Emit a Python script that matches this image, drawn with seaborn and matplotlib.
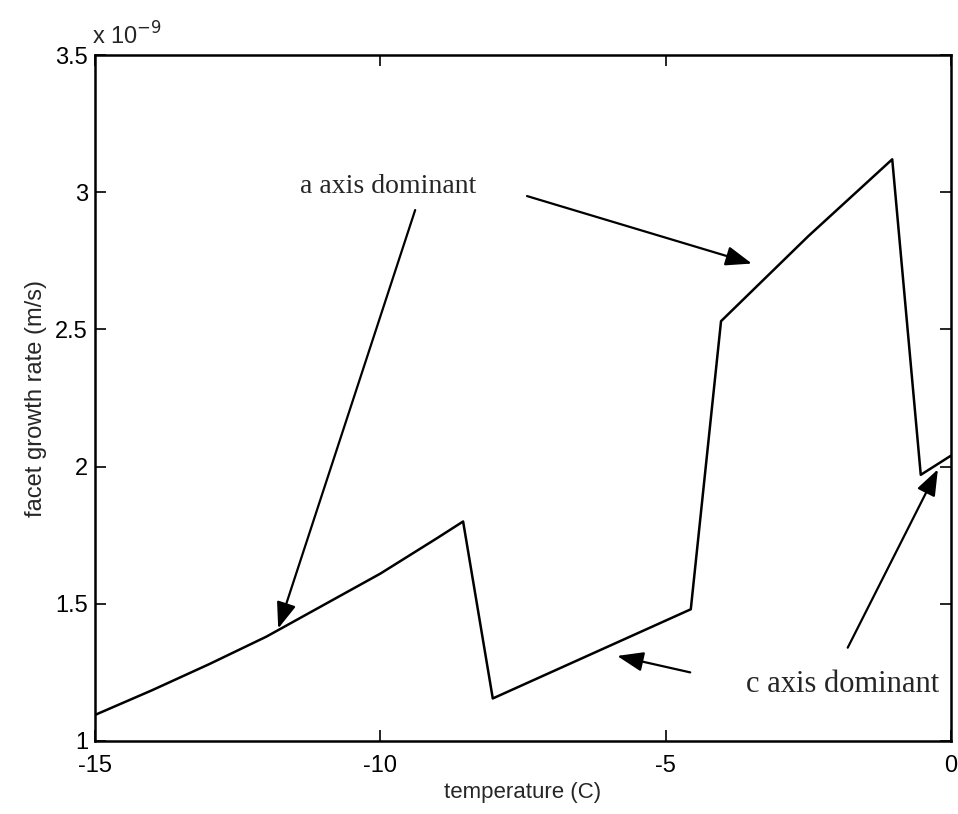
import numpy as np
import pandas as pd
import seaborn as sns
import matplotlib.pyplot as plt

# facet growth rate vs temperature, rate in units of 1e-9 m/s
temperature = [-15.0, -14.0, -13.0, -12.0, -11.0, -10.0, -9.0, -8.55,
               -8.03, -4.56, -4.03, -2.5, -1.03, -0.53, 0.0]
growth_rate = [1.095, 1.185, 1.28, 1.38, 1.495, 1.61, 1.74, 1.80,
               1.155, 1.48, 2.53, 2.84, 3.12, 1.97, 2.04]

x_ticks = [-15, -10, -5, 0]
y_ticks = [1, 1.5, 2, 2.5, 3, 3.5]
y_tick_labels = ['1', '1.5', '2', '2.5', '3', '3.5']

df = pd.DataFrame({'temperature': temperature, 'rate': growth_rate})

sns.set_style('ticks')
plt.rcParams['font.family'] = ['Liberation Sans', 'DejaVu Sans']

fig = plt.figure(figsize=(9.58, 8.14), dpi=100)
ax = fig.add_axes([0.0992, 0.0897, 0.8935, 0.8427])

sns.lineplot(data=df, x='temperature', y='rate', ax=ax, color='black',
             linewidth=1.8, sort=False, estimator=None)

ax.set_xlim(-15, 0)
ax.set_ylim(1, 3.5)
ax.set_xticks(x_ticks)
ax.set_xticklabels([str(t) for t in x_ticks])
ax.set_yticks(y_ticks)
ax.set_yticklabels(y_tick_labels)
ax.tick_params(direction='in', length=8, width=1.2, top=True, right=True,
               labelsize=17, colors='black')
ax.tick_params(axis='x', pad=10)
ax.tick_params(axis='y', pad=5)
for s in ax.spines.values():
    s.set_visible(True)
    s.set_linewidth(1.8)
    s.set_color('black')

ax.set_xlabel('temperature (C)', fontsize=16, labelpad=4)
ax.set_ylabel('facet growth rate (m/s)', fontsize=17, labelpad=6)

ax.text(-0.003, 1.008, r'x 10$^{-9}$', transform=ax.transAxes, fontsize=17,
        ha='left', va='bottom')

serif = ['Liberation Serif', 'DejaVu Serif']
arrow = dict(arrowstyle='-|>,head_length=1.6,head_width=0.6', color='black',
             lw=1.6, shrinkA=0, shrinkB=0)

ax.text(-9.87, 3.02, 'a axis dominant', fontsize=20, family=serif,
        ha='center', va='center')
ax.annotate('', xy=(-11.79, 1.41), xytext=(-9.39, 2.935), arrowprops=arrow)
ax.annotate('', xy=(-3.49, 2.74), xytext=(-7.43, 2.986), arrowprops=arrow)

ax.text(-1.9, 1.205, 'c axis dominant', fontsize=22, family=serif,
        ha='center', va='center')
ax.annotate('', xy=(-5.85, 1.31), xytext=(-4.57, 1.25), arrowprops=arrow)
ax.annotate('', xy=(-0.23, 1.99), xytext=(-1.81, 1.34), arrowprops=arrow)

fig.savefig('out.png', dpi=100)
